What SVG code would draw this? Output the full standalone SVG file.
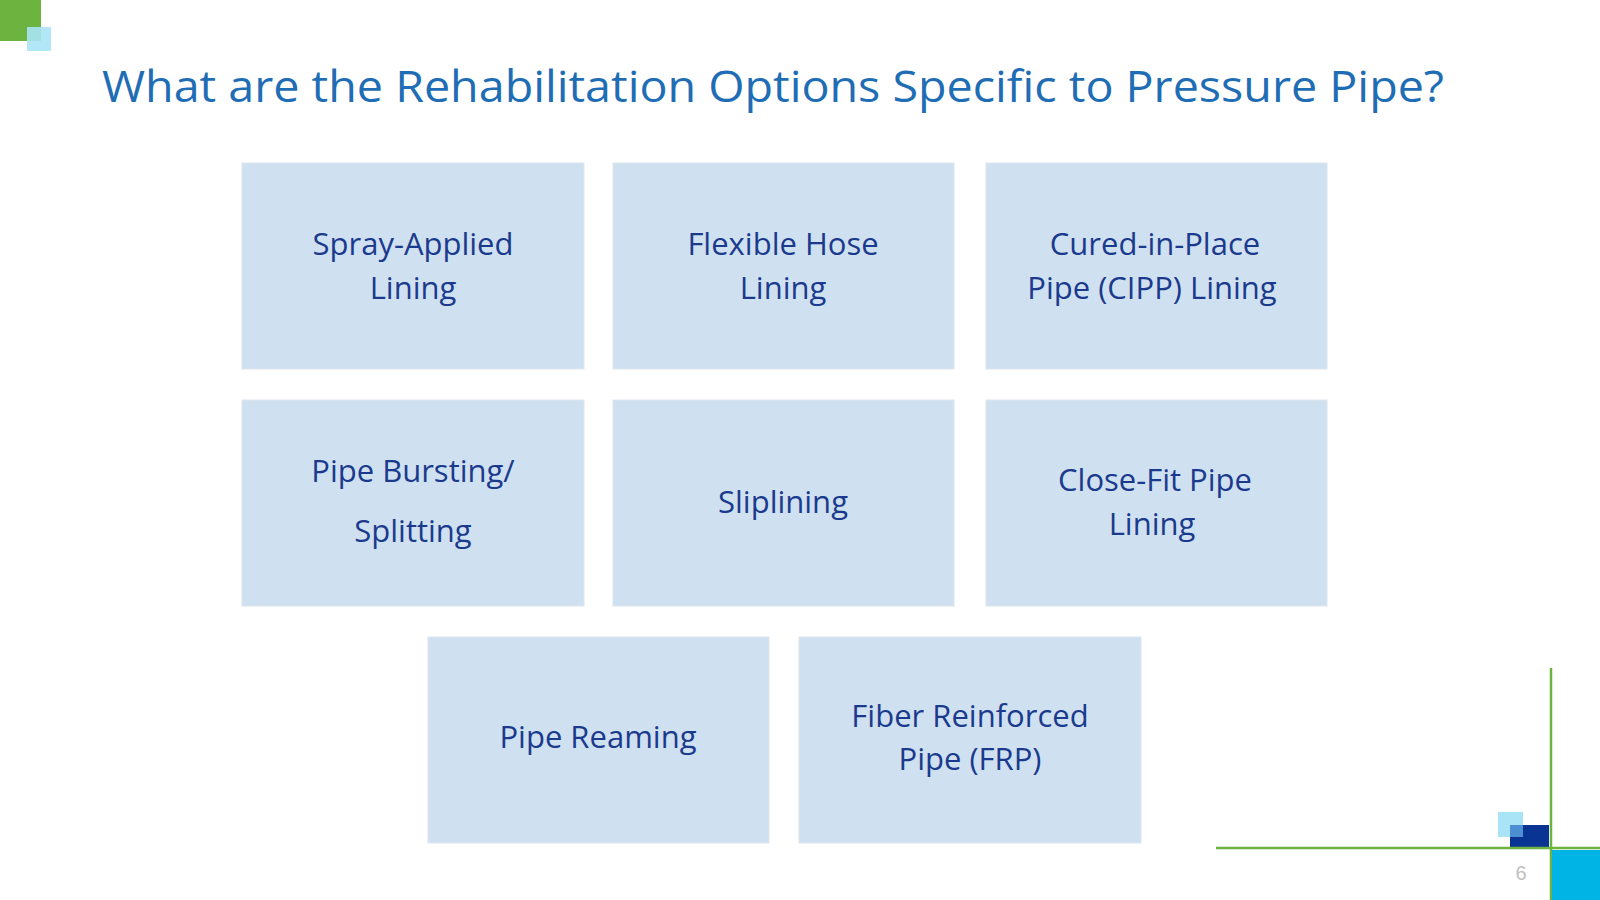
<svg xmlns="http://www.w3.org/2000/svg" width="1600" height="900" viewBox="0 0 1600 900">
<style>
.b{fill:#CFE1F0;stroke:#dde6ee;stroke-width:1}
.t{font-family:"Open Sans","Liberation Sans",sans-serif;font-size:31px;fill:#1B3A8E;text-anchor:middle}
</style>
<rect width="1600" height="900" fill="#fff"/>
<rect x="0" y="0" width="41" height="41" fill="#6DB33F"/>
<rect x="27" y="27" width="24" height="24" fill="#A8E4F5" opacity="0.9"/>
<text x="102" y="102" font-family="'Open Sans','Liberation Sans',sans-serif" font-size="43" fill="#1F6DB5" textLength="1342" lengthAdjust="spacingAndGlyphs">What are the Rehabilitation Options Specific to Pressure Pipe?</text>
<g id="n1"><rect class="b" x="242" y="163" width="342" height="206"/><text class="t" x="413" y="255">Spray-Applied</text><text class="t" x="413" y="299">Lining</text></g>
<g id="n2"><rect class="b" x="613" y="163" width="341" height="206"/><text class="t" x="783" y="255">Flexible Hose</text><text class="t" x="783" y="299">Lining</text></g>
<g id="n3"><rect class="b" x="986" y="163" width="341" height="206"/><text class="t" x="1155" y="255">Cured-in-Place</text><text class="t" x="1152" y="299">Pipe (CIPP) Lining</text></g>
<g id="n4"><rect class="b" x="242" y="400" width="342" height="206"/><text class="t" x="413" y="482">Pipe Bursting/</text><text class="t" x="413" y="542">Splitting</text></g>
<g id="n5"><rect class="b" x="613" y="400" width="341" height="206"/><text class="t" x="783" y="513">Sliplining</text></g>
<g id="n6"><rect class="b" x="986" y="400" width="341" height="206"/><text class="t" x="1155" y="491">Close-Fit Pipe</text><text class="t" x="1152" y="535">Lining</text></g>
<g id="n7"><rect class="b" x="428" y="637" width="341" height="206"/><text class="t" x="598" y="748">Pipe Reaming</text></g>
<g id="n8"><rect class="b" x="799" y="637" width="342" height="206"/><text class="t" x="970" y="727">Fiber Reinforced</text><text class="t" x="970" y="770">Pipe (FRP)</text></g>
<g id="connectors"></g>
<rect x="1498" y="812" width="25" height="25" fill="#A8E4F5"/>
<rect x="1510" y="825" width="39" height="23" fill="#0A3494"/>
<rect x="1510" y="825" width="13" height="12" fill="#4B8FD0"/>
<line x1="1551" y1="668" x2="1551" y2="900" stroke="#6DB33F" stroke-width="2.5"/>
<line x1="1216" y1="848" x2="1600" y2="848" stroke="#6DB33F" stroke-width="2.5"/>
<rect x="1552" y="850" width="48" height="50" fill="#00B4E6"/>
<text x="1521" y="880" font-family="'Liberation Sans',sans-serif" font-size="20" fill="#c0c0c0" text-anchor="middle">6</text>
</svg>
